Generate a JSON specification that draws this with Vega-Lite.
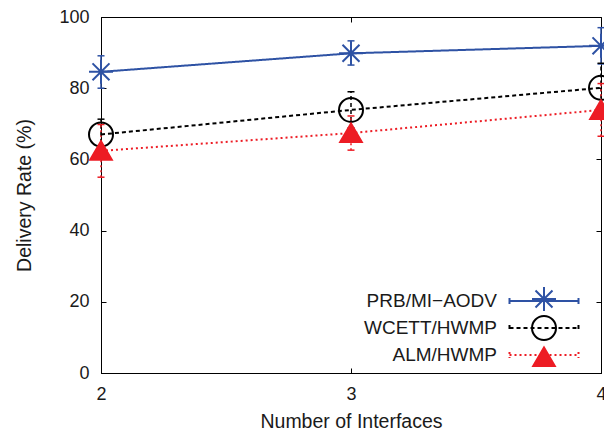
{
  "$schema": "https://vega.github.io/schema/vega-lite/v6.json",
  "width": 500,
  "height": 356,
  "autosize": "none",
  "padding": {"left": 101, "top": 17, "right": 3, "bottom": 64},
  "background": "white",
  "config": {
    "font": "Liberation Sans",
    "view": {"stroke": "#000000", "strokeWidth": 1},
    "axis": {
      "grid": false,
      "domainColor": "#000000",
      "tickColor": "#000000",
      "labelColor": "#1a1a1a",
      "titleColor": "#1a1a1a",
      "labelFontSize": 18,
      "titleFontSize": 19.5,
      "titleFontWeight": "normal",
      "tickSize": -5,
      "labelFont": "Liberation Sans",
      "titleFont": "Liberation Sans",
      "labelOverlap": false,
      "labelFlush": false
    },
    "legend": {"labelFont": "Liberation Sans", "labelColor": "#1a1a1a"}
  },
  "data": {
    "values": [
      {"series": "PRB/MI−AODV", "interfaces": 2, "rate": 84.6, "lo": 80.0, "hi": 89.1},
      {"series": "PRB/MI−AODV", "interfaces": 3, "rate": 89.8, "lo": 86.5, "hi": 93.3},
      {"series": "PRB/MI−AODV", "interfaces": 4, "rate": 91.9, "lo": 86.8, "hi": 97.0},
      {"series": "WCETT/HWMP", "interfaces": 2, "rate": 67.0, "lo": 62.7, "hi": 71.3},
      {"series": "WCETT/HWMP", "interfaces": 3, "rate": 73.9, "lo": 68.8, "hi": 79.0},
      {"series": "WCETT/HWMP", "interfaces": 4, "rate": 80.1, "lo": 73.2, "hi": 87.0},
      {"series": "ALM/HWMP", "interfaces": 2, "rate": 62.4, "lo": 55.0, "hi": 69.8},
      {"series": "ALM/HWMP", "interfaces": 3, "rate": 67.4, "lo": 62.6, "hi": 72.2},
      {"series": "ALM/HWMP", "interfaces": 4, "rate": 73.9, "lo": 66.5, "hi": 81.3}
    ]
  },
  "resolve": {"axis": {"x": "independent", "y": "independent"}},
  "layer": [
    {
      "mark": {"type": "rule", "strokeWidth": 1.5},
      "encoding": {
        "x": {"field": "interfaces", "type": "quantitative",
              "scale": {"domain": [2, 4], "nice": false, "zero": false},
              "axis": {"orient": "bottom", "tickCount": 2, "title": "Number of Interfaces", "labelPadding": 17, "titlePadding": 9, "domain": true, "labelOverlap": false, "labelFlush": false, "labelBound": false}},
        "y": {"field": "lo", "type": "quantitative",
              "scale": {"domain": [0, 100], "nice": false, "zero": false},
              "axis": {"orient": "left", "values": [0, 20, 40, 60, 80, 100], "title": "Delivery Rate (%)", "labelPadding": 17, "titlePadding": 24, "domain": true}},
        "y2": {"field": "hi"},
        "color": {"field": "series", "type": "nominal",
                  "scale": {"domain": ["PRB/MI−AODV", "WCETT/HWMP", "ALM/HWMP"], "range": ["#2e52a4", "#000000", "#ed1c24"]}},
        "strokeDash": {"field": "series", "type": "nominal",
                  "scale": {"domain": ["PRB/MI−AODV", "WCETT/HWMP", "ALM/HWMP"], "range": [[1, 0], [4, 3], [2, 3]]}}
      }
    },
    {
      "mark": {"type": "tick", "orient": "horizontal", "size": 7, "thickness": 1.5, "opacity": 1},
      "encoding": {
        "x": {"field": "interfaces", "type": "quantitative", "axis": null},
        "y": {"field": "lo", "type": "quantitative", "axis": null},
        "color": {"field": "series", "type": "nominal"}
      }
    },
    {
      "mark": {"type": "tick", "orient": "horizontal", "size": 7, "thickness": 1.5, "opacity": 1},
      "encoding": {
        "x": {"field": "interfaces", "type": "quantitative", "axis": null},
        "y": {"field": "hi", "type": "quantitative", "axis": null},
        "color": {"field": "series", "type": "nominal"}
      }
    },
    {
      "mark": {"type": "line", "strokeWidth": 2},
      "encoding": {
        "x": {"field": "interfaces", "type": "quantitative",
              "axis": {"orient": "top", "tickCount": 2, "labels": false, "title": null, "domain": false}},
        "y": {"field": "rate", "type": "quantitative",
              "axis": {"orient": "right", "values": [0, 20, 40, 60, 80, 100], "labels": false, "title": null, "domain": false}},
        "color": {"field": "series", "type": "nominal",
                  "legend": {"orient": "none", "legendX": 430, "legendY": 271, "title": null, "direction": "vertical",
                             "symbolType": "M-2.875,0L2.875,0M-2.875,-0.25L-2.875,0.25M2.875,-0.25L2.875,0.25",
                             "symbolSize": 576, "symbolStrokeWidth": 2, "labelAlign": "right", "labelOffset": -60,
                             "labelFontSize": 19, "padding": 0, "rowPadding": 4}},
        "strokeDash": {"field": "series", "type": "nominal"}
      }
    },
    {
      "mark": {"type": "point", "filled": false, "size": 576, "strokeWidth": 2, "opacity": 1},
      "encoding": {
        "x": {"field": "interfaces", "type": "quantitative", "axis": null},
        "y": {"field": "rate", "type": "quantitative", "axis": null},
        "shape": {"field": "series", "type": "nominal", "sort": null,
                  "scale": {"range": ["M0,-1L0,1M-1,0L1,0M-0.7071,-0.7071L0.7071,0.7071M-0.7071,0.7071L0.7071,-0.7071", "circle", "M0,-0.8L0.9,0.75L-0.9,0.75Z"]},
                  "legend": {"orient": "none", "legendX": 430, "legendY": 269, "title": null, "direction": "vertical",
                             "symbolSize": 576, "symbolStrokeWidth": 2, "labelExpr": "''", "labelOpacity": 0,
                             "labelFontSize": 18, "padding": 0, "rowPadding": -4}},
        "stroke": {"field": "series", "type": "nominal", "sort": null,
                   "scale": {"range": ["#2e52a4", "#000000", "#ed1c24"]}},
        "fill": {"field": "series", "type": "nominal", "sort": null,
                 "scale": {"range": ["transparent", "transparent", "#ed1c24"]}}
      }
    }
  ]
}
